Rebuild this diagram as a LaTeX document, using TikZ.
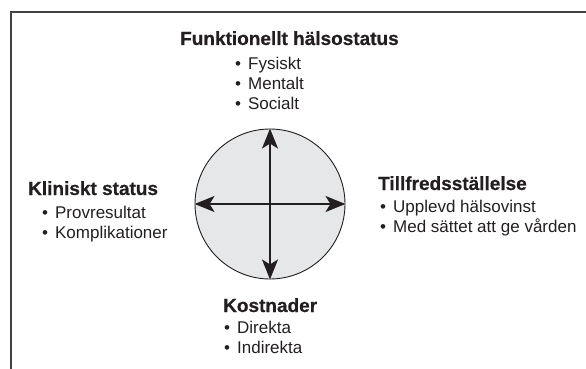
\documentclass[tikz,border=0pt]{standalone}
\usepackage{fontspec}
\setmainfont{Liberation Sans}
\newfontfamily\headfont[FakeBold=0.6]{Liberation Sans Bold}
\usetikzlibrary{arrows.meta}
\usetikzlibrary{positioning}
\definecolor{hub-gray}{RGB}{230, 231, 232}
\definecolor{ink}{RGB}{35, 31, 32}
\newcommand{\blt}{\textbullet\kern7pt}

\begin{document}
\begin{tikzpicture}[x=1pt, y=-1pt,
  head/.style={anchor=base west, inner sep=0pt, text=ink, font=\fontsize{19}{21}\headfont},
  item/.style={anchor=base west, inner sep=0pt, text=ink, font=\fontsize{17}{19}\selectfont},
  hub/.style={circle, draw=ink, line width=0.9pt, fill=hub-gray, inner sep=0pt, minimum size=150pt},
  arr/.style={draw=ink, line width=1.2pt, -{Stealth[length=20pt, width=16pt, inset=5pt]}}]
\useasboundingbox (0,0) rectangle (586,369);
% open frame
\draw[ink!85, line width=1.3pt] (11,369) -- (11,12) -- (586,12);

% centre
\node[hub] (hub) at (270,204) {};
\draw[arr] (hub.center) -- (hub.north);
\draw[arr] (hub.center) -- (hub.south);
\draw[arr] (hub.center) -- (hub.west);
\draw[arr] (hub.center) -- (hub.east);

% top
\node[head] (funk) at (180,45) {Funktionellt hälsostatus};
\node[item] (fys) at (235,69.5) {\blt Fysiskt};
\node[item] (ment) at (235,89.5) {\blt Mentalt};
\node[item] (soc) at (235,109) {\blt Socialt};

% left
\node[head] (klin) at (28,195) {Kliniskt status};
\node[item] (prov) at (42,218) {\blt Provresultat};
\node[item] (kompl) at (42,238) {\blt Komplikationer};

% right
\node[head] (tillf) at (378,190) {Tillfredsställelse};
\node[item] (uppl) at (380,212) {\blt Upplevd hälsovinst};
\node[item] (med) at (380,232) {\blt Med sättet att ge vården};

% bottom
\node[head] (kost) at (223,312) {Kostnader};
\node[item] (dir) at (224,333) {\blt Direkta};
\node[item] (indir) at (224,353) {\blt Indirekta};
\end{tikzpicture}
\end{document}
